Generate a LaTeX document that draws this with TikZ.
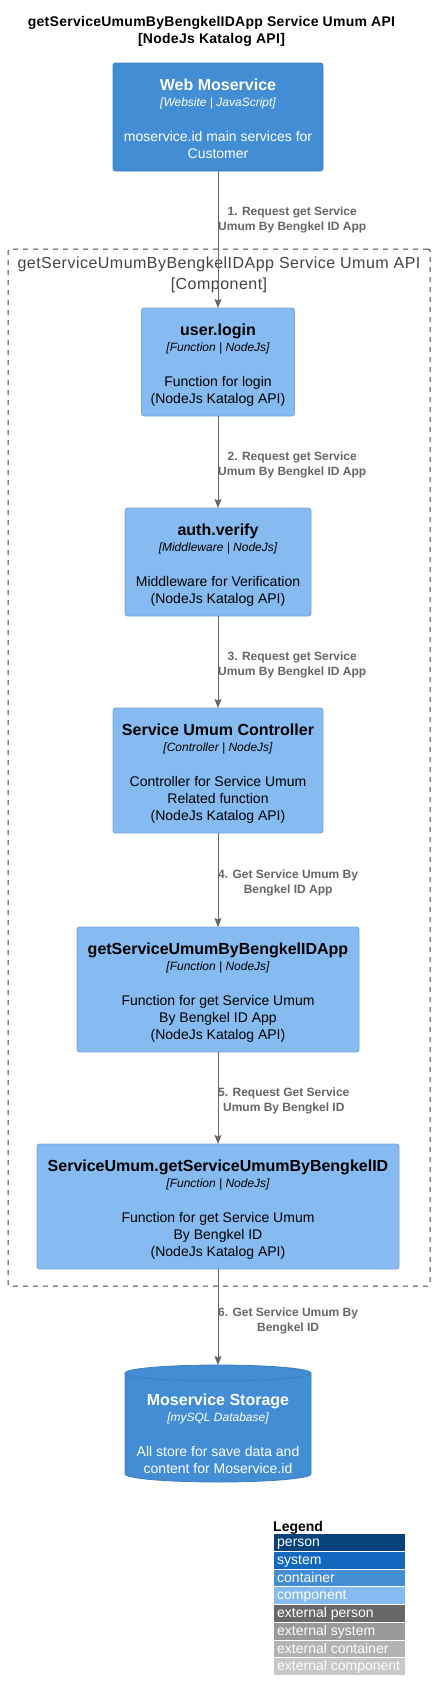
\documentclass[tikz,border=0pt]{standalone}
\usepackage{fontspec}
\setmainfont{Liberation Sans}
\usetikzlibrary{arrows.meta}
\definecolor{compfill}{HTML}{85BBF0}
\definecolor{compdraw}{HTML}{78A8D8}
\definecolor{contfill}{HTML}{438DD5}
\definecolor{contdraw}{HTML}{3C7FC0}
\definecolor{relcol}{HTML}{666666}
\definecolor{bndcol}{HTML}{444444}
\definecolor{lgperson}{HTML}{08427B}
\definecolor{lgsystem}{HTML}{1168BD}
\definecolor{lgcontainer}{HTML}{438DD5}
\definecolor{lgcomponent}{HTML}{85BBF0}
\definecolor{lgextperson}{HTML}{686868}
\definecolor{lgextsystem}{HTML}{999999}
\definecolor{lgextcontainer}{HTML}{B3B3B3}
\definecolor{lgextcomponent}{HTML}{C8C8C8}
\newcommand{\tl}[2]{\begin{tabular}[t]{@{}#1@{}}#2\end{tabular}}
\begin{document}
\begin{tikzpicture}[x=1pt,y=-1pt,
  compbox/.style={rectangle,rounded corners=2.5pt,fill=compfill,draw=compdraw,line width=0.8pt,inner sep=0pt,outer sep=0pt},
  contbox/.style={rectangle,rounded corners=2.5pt,fill=contfill,draw=contdraw,line width=0.8pt,inner sep=0pt,outer sep=0pt},
  etitle/.style={anchor=base,inner sep=0pt,font=\fontsize{16}{19}\selectfont\bfseries},
  etech/.style={anchor=base,inner sep=0pt,font=\fontsize{12}{14}\selectfont\itshape},
  edesc/.style={anchor=base,inner sep=0pt,font=\fontsize{14}{17}\selectfont},
  rel/.style={draw=relcol,line width=1pt,-{Stealth[width=7pt,length=9pt,inset=1.5pt]},fill=relcol},
  rellabel/.style={anchor=base west,inner sep=0pt,text=relcol,font=\fontsize{12}{15}\selectfont\bfseries},
  boundary/.style={rectangle,draw=bndcol,line width=1pt,dash pattern=on 5pt off 5pt,rounded corners=2pt,inner sep=0pt,outer sep=0pt},
  lgrow/.style={rectangle,anchor=north west,minimum width=131pt,minimum height=16.8pt,inner sep=0pt,outer sep=0pt},
  lgtext/.style={anchor=base west,inner sep=0pt,text=white,font=\fontsize{14}{17}\selectfont}
]
\useasboundingbox (0,0) rectangle (435,1700);
\fill[white] (0,0) rectangle (435,1700);

% diagram title
\node[anchor=base,inner sep=0pt,font=\fontsize{14}{17}\selectfont\bfseries\addfontfeature{LetterSpace=1.9}] (title) at (211.5,26)
  {\tl{c}{getServiceUmumByBengkelIDApp Service Umum API\\ {[NodeJs Katalog API]}}};

% boundary
\node[boundary,minimum width=422pt,minimum height=1037pt] (bnd) at (219,767.5) {};
\node[anchor=base,inner sep=0pt,text=bndcol,font=\fontsize{16}{21}\selectfont\addfontfeature{LetterSpace=3}] (bndtitle) at (219,268)
  {\tl{c}{getServiceUmumByBengkelIDApp Service Umum API\\ {[Component]}}};

% Web Moservice (container)
\node[contbox,minimum width=210pt,minimum height=108pt] (web) at (218,117) {};
\node[etitle,text=white] (webt) at (218,90) {Web Moservice};
\node[etech,text=white] (webk) at (218,106) {[Website | JavaScript]};
\node[edesc,text=white] (webd) at (218,141) {\tl{c}{moservice.id main services for\\ Customer}};

% user.login
\node[compbox,minimum width=153pt,minimum height=108pt] (login) at (218,362) {};
\node[etitle] (logint) at (218,335) {user.login};
\node[etech] (logink) at (218,351) {[Function | NodeJs]};
\node[edesc] (logind) at (218,386) {\tl{c}{Function for login\\ (NodeJs Katalog API)}};

% auth.verify
\node[compbox,minimum width=186pt,minimum height=108pt] (auth) at (218,562) {};
\node[etitle] (autht) at (218,535) {auth.verify};
\node[etech] (authk) at (218,551) {[Middleware | NodeJs]};
\node[edesc] (authd) at (218,586) {\tl{c}{Middleware for Verification\\ (NodeJs Katalog API)}};

% Service Umum Controller
\node[compbox,minimum width=210pt,minimum height=125pt] (ctrl) at (218,770.5) {};
\node[etitle] (ctrlt) at (218,735) {Service Umum Controller};
\node[etech] (ctrlk) at (218,751) {[Controller | NodeJs]};
\node[edesc] (ctrld) at (218,786) {\tl{c}{Controller for Service Umum\\ Related function\\ (NodeJs Katalog API)}};

% getServiceUmumByBengkelIDApp
\node[compbox,minimum width=282pt,minimum height=125pt] (app) at (218,989.5) {};
\node[etitle] (appt) at (218,954) {getServiceUmumByBengkelIDApp};
\node[etech] (appk) at (218,970) {[Function | NodeJs]};
\node[edesc] (appd) at (218,1005) {\tl{c}{Function for get Service Umum\\ By Bengkel ID App\\ (NodeJs Katalog API)}};

% ServiceUmum.getServiceUmumByBengkelID
\node[compbox,minimum width=362pt,minimum height=125pt] (su) at (218,1206.5) {};
\node[etitle] (sut) at (218,1171) {ServiceUmum.getServiceUmumByBengkelID};
\node[etech] (suk) at (218,1187) {[Function | NodeJs]};
\node[edesc] (sud) at (218,1222) {\tl{c}{Function for get Service Umum\\ By Bengkel ID\\ (NodeJs Katalog API)}};

% Moservice Storage (database)
\node[inner sep=0pt,outer sep=0pt,minimum width=186pt,minimum height=117pt] (storage) at (218,1423.5) {};
\path[fill=contfill,draw=contdraw,line width=0.8pt]
  ([yshift=-8pt]storage.north west) -- ([yshift=8pt]storage.south west)
  arc[start angle=180,end angle=360,x radius=93pt,y radius=8pt]
  -- ([yshift=-8pt]storage.north east)
  arc[start angle=0,end angle=180,x radius=93pt,y radius=8pt] -- cycle;
\draw[contdraw,line width=0.8pt] ([yshift=-8pt]storage.north west)
  arc[start angle=180,end angle=360,x radius=93pt,y radius=8pt];
\node[etitle,text=white] (stt) at (218,1405) {Moservice Storage};
\node[etech,text=white] (stk) at (218,1421) {[mySQL Database]};
\node[edesc,text=white] (std) at (218,1456) {\tl{c}{All store for save data and\\ content for Moservice.id}};

% relations
\draw[rel] (web.south) -- (login.north);
\draw[rel] (login.south) -- (auth.north);
\draw[rel] (auth.south) -- (ctrl.north);
\draw[rel] (ctrl.south) -- (app.north);
\draw[rel] (app.south) -- (su.north);
\draw[rel] (su.south) -- (storage.north);

\node[rellabel] (r1) at (218,215) {\tl{c}{1. Request get Service\\ Umum By Bengkel ID App}};
\node[rellabel] (r2) at (218,460) {\tl{c}{2. Request get Service\\ Umum By Bengkel ID App}};
\node[rellabel] (r3) at (218,660) {\tl{c}{3. Request get Service\\ Umum By Bengkel ID App}};
\node[rellabel] (r4) at (218,878) {\tl{c}{4. Get Service Umum By\\ Bengkel ID App}};
\node[rellabel] (r5) at (218,1096) {\tl{c}{5. Request Get Service\\ Umum By Bengkel ID}};
\node[rellabel] (r6) at (218,1316) {\tl{c}{6. Get Service Umum By\\ Bengkel ID}};

% legend
\node[anchor=base west,inner sep=0pt,font=\fontsize{14}{17}\selectfont\bfseries] (lgtitle) at (273,1531) {Legend};
\node[lgrow,fill=lgperson] (lg1) at (274,1534) {};
\node[lgrow,fill=lgsystem] (lg2) at (274,1551.75) {};
\node[lgrow,fill=lgcontainer] (lg3) at (274,1569.5) {};
\node[lgrow,fill=lgcomponent] (lg4) at (274,1587.25) {};
\node[lgrow,fill=lgextperson] (lg5) at (274,1605) {};
\node[lgrow,fill=lgextsystem] (lg6) at (274,1622.75) {};
\node[lgrow,fill=lgextcontainer] (lg7) at (274,1640.5) {};
\node[lgrow,fill=lgextcomponent] (lg8) at (274,1658.25) {};
\node[lgtext] (lgt1) at (277,1546.5) {person};
\node[lgtext] (lgt2) at (277,1564.25) {system};
\node[lgtext] (lgt3) at (277,1582) {container};
\node[lgtext] (lgt4) at (277,1599.75) {component};
\node[lgtext] (lgt5) at (277,1617.5) {external person};
\node[lgtext] (lgt6) at (277,1635.25) {external system};
\node[lgtext] (lgt7) at (277,1653) {external container};
\node[lgtext] (lgt8) at (277,1670.75) {external component};
\end{tikzpicture}
\end{document}
